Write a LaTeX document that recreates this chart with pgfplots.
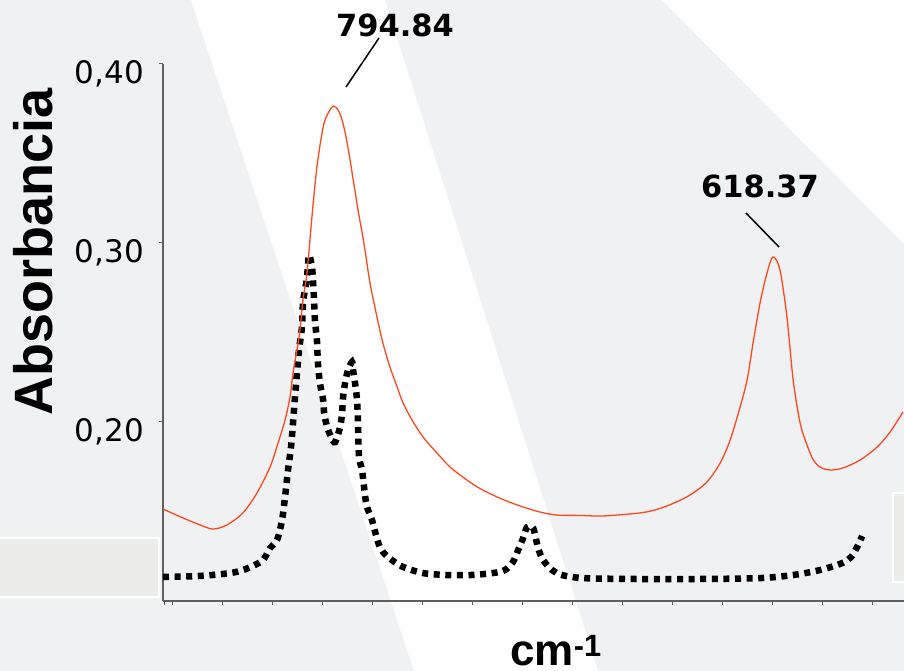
\documentclass[border=0pt]{standalone}
\usepackage{fontspec}
\setmainfont{DejaVu Sans}
\newfontfamily\headfont{Liberation Sans}
\usepackage{pgfplots}
\pgfplotsset{compat=1.18}

\definecolor{bggray}{RGB}{240,241,243}
\definecolor{boxgray}{RGB}{236,236,232}
\definecolor{spec}{RGB}{255,72,28}
\definecolor{spine}{RGB}{95,95,95}

% IR spectra: sample (red) and reference (dotted)
\pgfplotstableread{
x      y
863.3  0.1514
855.3  0.1464
848.4  0.1425
843.2  0.1402
837.6  0.1425
831.2  0.1492
825.6  0.1603
820.3  0.1749
817.1  0.1883
814.3  0.2011
812.3  0.2140
811.1  0.2274
809.5  0.2402
808.3  0.2514
807.1  0.2682
805.5  0.2832
803.5  0.3145
801.5  0.3425
799.0  0.3648
797.0  0.3726
794.84 0.3765
793.0  0.3743
791.4  0.3687
789.8  0.3592
788.2  0.3464
786.6  0.3324
785.0  0.3184
783.4  0.3061
782.2  0.2961
780.2  0.2777
777.4  0.2587
775.0  0.2441
772.2  0.2307
769.3  0.2196
766.9  0.2106
763.3  0.2011
758.9  0.1916
753.3  0.1827
748.1  0.1749
741.3  0.1676
736.0  0.1628
728.0  0.1574
720.0  0.1531
711.9  0.1497
705.1  0.1480
695.9  0.1478
686.6  0.1475
671.8  0.1492
664.9  0.1512
658.5  0.1545
651.7  0.1592
644.9  0.1665
639.6  0.1771
635.6  0.1899
631.6  0.2084
628.8  0.2235
626.4  0.2441
623.6  0.2665
620.8  0.2832
618.37 0.2922
615.6  0.2849
612.8  0.2587
610.3  0.2235
607.5  0.1994
604.7  0.1870
602.3  0.1790
599.5  0.1748
595.5  0.1732
590.3  0.1743
583.4  0.1788
576.6  0.1860
571.4  0.1944
566.2  0.2056
}\sample

\pgfplotstableread{
x      y
863.3  0.1134
848.4  0.1140
836.4  0.1156
831.2  0.1173
827.2  0.1196
823.1  0.1229
820.3  0.1296
817.5  0.1341
815.5  0.1453
814.3  0.1581
813.1  0.1732
811.9  0.1860
811.1  0.1994
810.3  0.2140
809.5  0.2274
808.7  0.2402
807.5  0.2531
807.1  0.2665
806.3  0.2737
805.5  0.2804
804.7  0.2933
803.5  0.2866
803.1  0.2793
802.7  0.2698
802.3  0.2570
801.5  0.2458
801.1  0.2330
800.3  0.2218
799.0  0.2123
798.6  0.2050
797.4  0.1972
795.8  0.1916
794.2  0.1888
792.2  0.1972
791.4  0.2050
791.0  0.2140
790.2  0.2218
789.0  0.2291
787.4  0.2335
787.0  0.2291
786.2  0.2218
785.4  0.2123
785.0  0.1994
784.6  0.1804
783.4  0.1732
782.2  0.1592
781.4  0.1525
779.4  0.1453
777.0  0.1330
775.0  0.1274
771.4  0.1229
766.9  0.1190
758.9  0.1156
749.3  0.1145
740.0  0.1145
730.8  0.1156
726.0  0.1173
722.8  0.1218
720.7  0.1285
718.7  0.1352
717.1  0.1413
714.7  0.1408
712.7  0.1296
710.7  0.1229
707.1  0.1173
703.1  0.1145
694.7  0.1128
674.6  0.1123
647.7  0.1123
623.6  0.1128
610.3  0.1145
599.5  0.1173
590.6  0.1212
587.0  0.1246
584.6  0.1302
582.6  0.1363
}\reference

\begin{document}
\begin{tikzpicture}
\useasboundingbox (0pt,0pt) rectangle (904pt,671pt);
\clip (0pt,0pt) rectangle (904pt,671pt);
% backdrop
\fill[bggray] (0pt,0pt) rectangle (904pt,671pt);
\fill[white] (191pt,671pt) -- (385pt,671pt) -- (598pt,0pt) -- (414pt,0pt) -- cycle;
\fill[white] (662pt,671pt) -- (904pt,671pt) -- (904pt,427pt) -- cycle;
\draw[white, line width=2pt, fill=boxgray] (-5pt,74pt) rectangle (159pt,133pt);
\draw[white, line width=2pt, fill=boxgray] (893pt,89pt) rectangle (912pt,178pt);

\begin{axis}[
  at={(163pt,70pt)}, anchor=south west,
  scale only axis, width=741pt, height=537pt,
  x dir=reverse,
  xmin=565.8, xmax=863.3, ymin=0.10, ymax=0.40,
  axis x line=bottom, axis y line=left,
  axis line style={-, spine, line width=1.3pt},
  tick style={spine, line width=1pt},
  major tick length=4pt, tick align=outside,
  xtick={578.4,598.4,618.5,638.6,658.7,678.7,698.8,718.9,739.0,759.0,779.1,799.2,819.3,839.3,859.4,862.5},
  xticklabels={},
  ytick={0.2,0.3,0.4},
  yticklabel style={/pgf/number format/use comma, /pgf/number format/fixed,
    /pgf/number format/fixed zerofill, /pgf/number format/precision=2,
    /pgf/number format/assume math mode=true},
  y tick label style={font=\fontsize{31}{31}\selectfont, anchor=base east, inner sep=0pt, xshift=-15pt, yshift=-20pt},
]
\addplot[black, line width=6.5pt, dash pattern=on 6pt off 5.6pt, smooth] table[x=x, y=y] {\reference};
\addplot[spec, line width=1.3pt, smooth] table[x=x, y=y] {\sample};
\end{axis}

% peak annotations
\draw[black, line width=1.5pt] (379pt,633pt) -- (346pt,584pt);
\draw[black, line width=1.5pt] (746pt,458pt) -- (779pt,424pt);
\node[anchor=base, inner sep=0pt, font=\fontsize{30.5}{30.5}\selectfont\bfseries] at (395pt,634pt) {794.84};
\node[anchor=base, inner sep=0pt, font=\fontsize{30.5}{30.5}\selectfont\bfseries] at (760pt,473pt) {618.37};

% axis titles
\node[anchor=base, rotate=90, inner sep=0pt, font=\headfont\fontsize{54}{54}\selectfont\bfseries] at (52pt,419pt) {Absorbancia};
\node[anchor=base west, inner sep=0pt, font=\headfont\fontsize{44}{44}\selectfont\bfseries] at (510pt,5pt) {cm\textsuperscript{-1}};
\end{tikzpicture}
\end{document}
